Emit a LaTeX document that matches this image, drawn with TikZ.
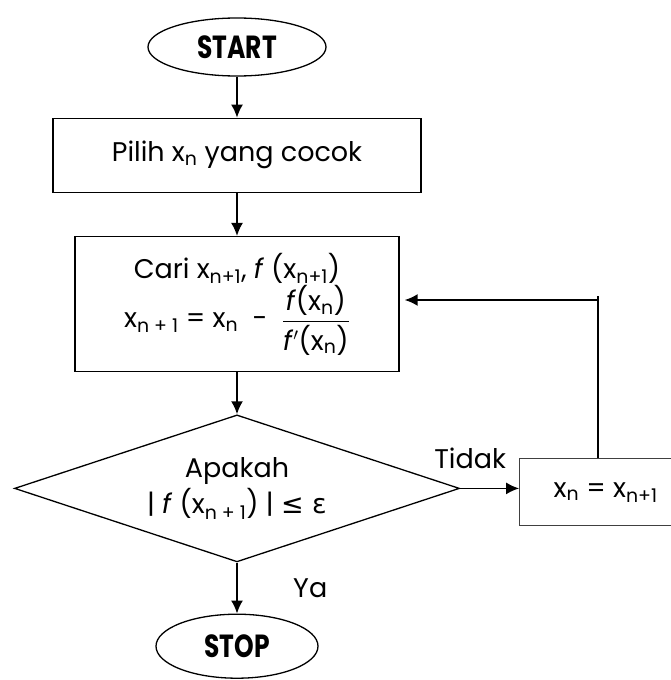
\documentclass[tikz,border=0pt]{standalone}
\usepackage{amsmath}
\usepackage{fontspec}
\setmainfont{Poppins}
\newfontfamily\symfont{DejaVu Sans}
\newfontfamily\termfont[FakeStretch=0.78]{Poppins}
\usepackage{tikz}
\usetikzlibrary{shapes.geometric}
\usetikzlibrary{positioning}
\usetikzlibrary{arrows.meta}
\tikzset{term node/.style={ellipse,draw,line width=1.3pt,inner sep=0pt,font=\termfont\bfseries\fontsize{32}{34}\selectfont},
box node/.style={rectangle,draw,line width=1.3pt,inner sep=0pt,align=center,font=\fontsize{27}{31}\selectfont},
cond node/.style={diamond,draw,line width=1.3pt,inner sep=0pt,shape aspect=3,align=center,font=\fontsize{27}{31}\selectfont},
flow/.style={-{Latex[length=13pt,width=12pt]},line width=1.8pt},}

\begin{document}
\begin{tikzpicture}[x=1pt,y=-1pt]
\useasboundingbox (0,0) rectangle (671,680);

 \node[term node,minimum width=178pt,minimum height=58pt] (start) at (237,47) {START};
    \node[box node,minimum width=368pt,minimum height=74pt] (pilih) [below = 41pt of start] {Pilih x\textsubscript{n} yang cocok};
    \node[box node,minimum width=324pt,minimum height=135pt] (cari) [below = 43pt of pilih]
      {Cari x\textsubscript{n+1}, \textit{f} (x\textsubscript{n+1})\\[1pt]
       x\textsubscript{n + 1} = x\textsubscript{n} \ - \ $\dfrac{\text{\textit{f}(x\textsubscript{n})}}{\text{\textit{f}$'$(x\textsubscript{n})}}$};
    \node[cond node,minimum width=445pt,minimum height=147pt] (cond) [below = 42pt of cari]
      {Apakah\\[3pt] | \textit{f} (x\textsubscript{n + 1}) | {\symfont ≤ ε}};
    \node[box node,line width=1pt,draw=black!75,minimum width=172pt,minimum height=67pt] (upd) [right = 59pt of cond,yshift=-4pt] {x\textsubscript{n} = x\textsubscript{n+1}};
    \node[term node,minimum width=162pt,minimum height=64pt] (stop) [below = 51pt of cond] {STOP};
     \draw[flow] (start) -- (pilih);
     \draw[flow] (pilih) -- (cari);
     \draw[flow] (cari) -- (cond);
     \draw[flow] (cond.east) -- node[pos=0,above=15pt,xshift=10pt,font=\fontsize{27}{29}\selectfont] {Tidak} (upd.west |- cond.east);
     \draw[flow] (cond) -- node[midway,right=52pt,font=\fontsize{27}{29}\selectfont] {Ya} (stop);

  % way back to the formula box
\coordinate (bend) at (598,300);
\coordinate (top) at (598,296);
\draw[line width=1.5pt] (upd.north -| top) -- (top);
\draw[flow] (bend) -- ([xshift=5pt]cari.east |- bend);
\end{tikzpicture}
\end{document}
